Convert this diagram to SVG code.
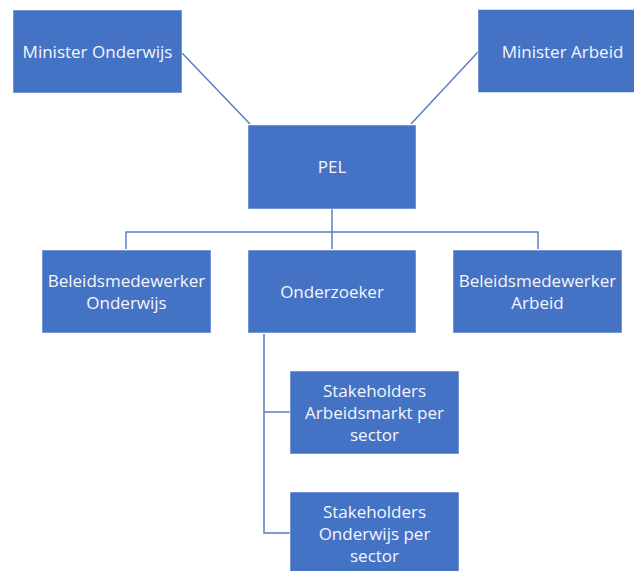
<svg xmlns="http://www.w3.org/2000/svg" width="634" height="571" viewBox="0 0 634 571">
<style>
.box{fill:#4472C4;stroke:#ffffff;stroke-opacity:0.5;stroke-width:1}
.t{font-family:"Open Sans","Liberation Sans",Arial,sans-serif;font-size:17px;fill:#f4f6fb;text-anchor:middle}
.c{fill:none;stroke:#5a7ec2;stroke-width:1.5}
</style>
<rect width="634" height="571" fill="#ffffff"/>
<g id="connectors">
<line class="c" x1="182" y1="53" x2="250" y2="124"/>
<line class="c" x1="478" y1="52" x2="411" y2="124"/>
<polyline class="c" points="332,209 332,249"/>
<polyline class="c" points="126,249 126,232 538,232 538,249"/>
<polyline class="c" points="264,334 264,533 290,533"/>
<line class="c" x1="264" y1="412" x2="290" y2="412"/>
</g>
<g id="minister-onderwijs">
<rect class="box" x="13" y="10" width="169" height="83"/>
<text class="t" x="97.5" y="58">Minister Onderwijs</text>
</g>
<g id="minister-arbeid">
<rect class="box" x="478" y="9.5" width="169" height="83"/>
<text class="t" x="562.5" y="57.5">Minister Arbeid</text>
</g>
<g id="pel">
<rect class="box" x="248" y="125" width="168" height="84"/>
<text class="t" x="332" y="173">PEL</text>
</g>
<g id="beleidsmedewerker-onderwijs">
<rect class="box" x="42" y="250" width="169" height="83"/>
<text class="t" x="126.5" y="286.5">Beleidsmedewerker</text>
<text class="t" x="126.5" y="308.5">Onderwijs</text>
</g>
<g id="onderzoeker">
<rect class="box" x="248" y="250" width="168" height="83"/>
<text class="t" x="332" y="297.5">Onderzoeker</text>
</g>
<g id="beleidsmedewerker-arbeid">
<rect class="box" x="453" y="250" width="169" height="83"/>
<text class="t" x="537.5" y="286.5">Beleidsmedewerker</text>
<text class="t" x="537.5" y="308.5">Arbeid</text>
</g>
<g id="stakeholders-arbeidsmarkt">
<rect class="box" x="290" y="371" width="169" height="83"/>
<text class="t" x="374.5" y="396.5">Stakeholders</text>
<text class="t" x="374.5" y="418.5">Arbeidsmarkt per</text>
<text class="t" x="374.5" y="440.5">sector</text>
</g>
<g id="stakeholders-onderwijs">
<rect class="box" x="290" y="492" width="169" height="83"/>
<text class="t" x="374.5" y="517.5">Stakeholders</text>
<text class="t" x="374.5" y="539.5">Onderwijs per</text>
<text class="t" x="374.5" y="561.5">sector</text>
</g>
</svg>
